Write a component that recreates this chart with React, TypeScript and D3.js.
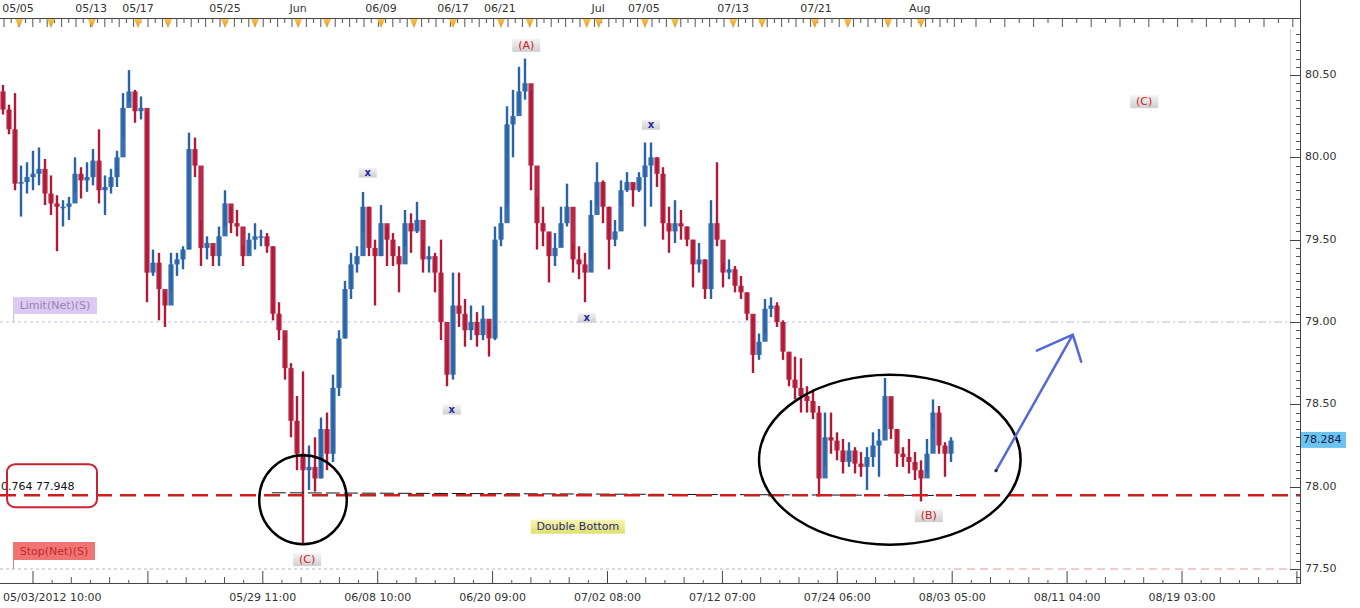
import React from 'react';
import * as d3 from 'd3';

// ---------------- DATA ----------------
const firstOpen = 80.40;
// 10-hour bars
const highs = [
  80.44, 80.32, 80.39, 79.95, 79.97, 80.04, 80.06, 79.99, 79.89, 79.77,
  79.74, 79.76, 80.00, 79.94, 79.97, 80.05, 80.17, 79.89, 79.93, 80.04,
  80.39, 80.53, 80.41, 80.37, 80.28, 79.44, 79.42, 79.18, 79.42, 79.42,
  79.46, 80.15, 80.12, 79.62, 79.52, 79.46, 79.58, 79.80, 79.70, 79.68,
  79.46, 79.54, 79.60, 79.56, 79.54, 79.46, 79.12, 78.92, 78.75, 78.55,
  78.70, 78.25, 78.30, 78.42, 78.45, 78.68, 78.95, 79.25, 79.42, 79.46,
  79.79, 79.70, 79.50, 79.71, 79.58, 79.54, 79.46, 79.68, 79.66, 79.73,
  79.50, 79.46, 79.42, 79.50, 78.89, 79.30, 79.30, 79.14, 79.10, 79.06,
  79.10, 79.00, 79.58, 79.70, 80.31, 80.41, 80.55, 80.60, 80.41, 79.76,
  79.70, 79.54, 79.54, 79.70, 79.84, 79.48, 79.46, 79.42, 79.74, 79.97,
  79.86, 79.70, 79.62, 79.86, 79.91, 79.84, 79.91, 80.09, 80.09, 80.00,
  79.94, 79.70, 79.74, 79.68, 79.58, 79.50, 79.48, 79.38, 79.74, 79.97,
  79.36, 79.38, 79.34, 79.28, 79.18, 79.03, 78.93, 79.14, 79.15, 79.12,
  79.01, 78.81, 78.79, 78.78, 78.61, 78.59, 78.49, 78.45, 78.45, 78.33,
  78.29, 78.27, 78.24, 78.21, 78.24, 78.33, 78.35, 78.66, 78.53, 78.35,
  78.24, 78.29, 78.21, 78.16, 78.29, 78.53, 78.49, 78.27, 78.30,
];
const lows = [
  80.26, 80.14, 79.80, 79.64, 79.78, 79.80, 79.83, 79.71, 79.65, 79.43,
  79.58, 79.62, 79.79, 79.75, 79.79, 79.83, 79.72, 79.65, 79.78, 79.82,
  80.12, 80.33, 80.21, 80.23, 79.12, 79.28, 79.01, 78.97, 79.18, 79.28,
  79.32, 79.44, 79.88, 79.34, 79.38, 79.34, 79.34, 79.58, 79.54, 79.52,
  79.34, 79.42, 79.44, 79.46, 79.42, 79.01, 78.89, 78.65, 78.30, 78.10,
  77.65, 77.98, 77.97, 78.05, 78.10, 78.15, 78.55, 78.90, 79.14, 79.30,
  79.55, 79.40, 79.10, 79.40, 79.34, 79.34, 79.18, 79.46, 79.42, 79.54,
  79.30, 79.30, 79.18, 78.89, 78.61, 78.65, 78.97, 78.85, 78.89, 78.85,
  78.89, 78.79, 78.89, 79.46, 79.70, 80.00, 80.27, 80.35, 79.80, 79.44,
  79.46, 79.24, 79.34, 79.46, 79.58, 79.30, 79.26, 79.12, 79.38, 79.70,
  79.60, 79.32, 79.46, 79.70, 79.79, 79.70, 79.79, 79.58, 79.70, 79.82,
  79.50, 79.42, 79.48, 79.50, 79.46, 79.21, 79.30, 79.14, 79.14, 79.46,
  79.21, 79.26, 79.18, 79.14, 79.01, 78.69, 78.77, 78.93, 79.03, 78.97,
  78.77, 78.61, 78.53, 78.45, 78.45, 78.41, 77.94, 78.12, 78.20, 78.16,
  78.08, 78.12, 78.08, 78.06, 77.98, 78.12, 78.06, 78.35, 78.29, 78.12,
  78.12, 78.08, 78.04, 77.91, 78.08, 78.35, 78.20, 78.06, 78.15,
];
const closes = [
  80.29, 80.17, 79.84, 79.85, 79.88, 79.90, 79.93, 79.78, 79.72, 79.70,
  79.70, 79.72, 79.90, 79.86, 79.88, 79.98, 79.80, 79.82, 79.88, 80.00,
  80.30, 80.40, 80.28, 80.30, 79.30, 79.36, 79.20, 79.10, 79.35, 79.38,
  79.44, 80.05, 79.95, 79.45, 79.48, 79.40, 79.52, 79.72, 79.60, 79.58,
  79.40, 79.50, 79.52, 79.52, 79.46, 79.05, 78.95, 78.72, 78.40, 78.20,
  78.10, 78.12, 78.05, 78.35, 78.20, 78.60, 78.90, 79.20, 79.35, 79.40,
  79.70, 79.45, 79.40, 79.60, 79.50, 79.40, 79.35, 79.60, 79.55, 79.62,
  79.38, 79.40, 79.30, 79.00, 78.68, 79.10, 79.05, 78.95, 79.00, 78.92,
  79.02, 78.90, 79.50, 79.60, 80.20, 80.25, 80.40, 80.45, 79.95, 79.60,
  79.55, 79.40, 79.45, 79.60, 79.70, 79.38, 79.35, 79.30, 79.65, 79.85,
  79.70, 79.50, 79.55, 79.80, 79.85, 79.80, 79.88, 79.95, 80.00, 79.90,
  79.60, 79.55, 79.60, 79.58, 79.50, 79.35, 79.38, 79.20, 79.60, 79.50,
  79.30, 79.32, 79.22, 79.18, 79.05, 78.80, 78.88, 79.08, 79.10, 79.00,
  78.82, 78.65, 78.60, 78.55, 78.52, 78.45, 78.05, 78.30, 78.28, 78.22,
  78.15, 78.22, 78.14, 78.12, 78.18, 78.25, 78.28, 78.55, 78.35, 78.20,
  78.18, 78.15, 78.10, 78.05, 78.20, 78.45, 78.25, 78.20, 78.28,
];
const HOURS_PER_BAR = 10;

const priceTicks = [77.5, 78.0, 78.5, 79.0, 79.5, 80.0, 80.5];
const lastPrice = 78.284;
const fibRatio = '0.764';
const fibLevel = 77.948;
const limitLevel = 79.0;
const stopLevel = 77.5;
const supportStart = [453, 77.963];
const supportEnd = [1600, 77.946];

const topLabels = ['05/05', '05/13', '05/17', '05/25', 'Jun', '06/09', '06/17', '06/21', 'Jul', '07/05', '07/13', '07/21', 'Aug'];
const topLabelHours = [30, 152, 230, 375, 497, 635, 755, 833, 997, 1073, 1222, 1360, 1533];
const eventHours = [32, 85, 153, 230, 280, 375, 425, 497, 545, 635, 690, 755, 835, 883, 978, 998, 1075, 1125, 1222, 1270, 1358, 1413, 1480, 1535];

const bottomLabels = ['05/03/2012 10:00', '', '05/29 11:00', '06/08 10:00', '06/20 09:00', '07/02 08:00', '07/12 07:00', '07/24 06:00', '08/03 05:00', '08/11 04:00', '08/19 03:00', ''];
const bottomTickHours = [55, 246.5, 438, 629.5, 821, 1012.5, 1204, 1395.5, 1587, 1778.5, 1970, 2161.5];

const waveLabels = ['(A)', '(C)', '(B)', '(C)'];
const waveHours = [877, 512, 1548, 1907];
const wavePrices = [80.68, 77.557, 77.824, 80.338];
const xMarkHours = [613, 753, 978, 1085];
const xMarkPrices = [79.907, 78.468, 79.026, 80.198];

const circleCenter = [505, 77.921];
const circleRadius = [73, 0.27];
const ellipseCenter = [1483, 78.164];
const ellipseRadius = [218, 0.516];

const arrowStart = [1660, 78.097];
const arrowTip = [1788, 78.923];
const arrowWingA = [1728, 78.826];
const arrowWingB = [1802, 78.759];

const patternLabel = 'Double Bottom';
const patternPos = [963, 77.757];

// ---------------- LAYOUT ----------------
const W = 1360;
const H = 608;
const PLOT_R = 1290;
const AXIS_X = 1300;
const FONT = 'DejaVu Sans, Verdana, sans-serif';

export default function App() {
  const x = d3.scaleLinear().domain([0, 2160]).range([0, 1296]);
  const y = d3.scaleLinear().domain([77.5, 80.5]).range([569, 75]);
  const RED = '#b01a38';
  const BLUE = '#2a64a8';

  const bars = closes.map((c, i) => {
    const o = i === 0 ? firstOpen : closes[i - 1];
    return { i, o, c, h: highs[i], l: lows[i], up: c >= o };
  });

  const minorPrice = d3.range(7740, 8080, 5).map((v) => v / 100).filter((p) => y(p) > 26 && y(p) < 584);

  const topTicks: { px: number; tall: boolean }[] = [];
  for (let k = 0, px = 4; px < AXIS_X; k++) {
    topTicks.push({ px, tall: k % 2 === 0 });
    px += px < 955 ? 7.2 : 14.4;
  }

  const bottomMinor: { px: number; tall: boolean }[] = [];
  bottomTickHours.forEach((h) => {
    for (let s = 1; s < 6; s++) {
      const px = x(h + (191.5 * s) / 6);
      if (px < AXIS_X) bottomMinor.push({ px, tall: s % 2 === 0 });
    }
  });

  const limitY = y(limitLevel);
  const stopY = y(stopLevel);
  const fibY = y(fibLevel);

  const grayBox = (cx: number, cy: number, w: number, h: number, key: string, label: string, color: string, bold = false) => (
    <g key={key}>
      <rect x={cx - w / 2} y={cy - h / 2} width={w} height={h} fill="url(#gbox)" />
      <text x={cx} y={cy + 0.5} textAnchor="middle" dominantBaseline="middle" fontSize={bold ? 10 : 11} fontWeight={bold ? 'bold' : 'normal'} fill={color} fontFamily={FONT}>
        {label}
      </text>
    </g>
  );

  return (
    <svg width={W} height={H} style={{ position: 'absolute', left: 0, top: 0, background: '#fff' }} fontFamily={FONT}>
      <defs>
        <linearGradient id="gbox" x1="0" y1="0" x2="0" y2="1">
          <stop offset="0" stopColor="#f4f4f4" />
          <stop offset="1" stopColor="#cfcfcf" />
        </linearGradient>
        <linearGradient id="ybox" x1="0" y1="0" x2="0" y2="1">
          <stop offset="0" stopColor="#f6f6b0" />
          <stop offset="1" stopColor="#dede70" />
        </linearGradient>
        <linearGradient id="tri" x1="0" y1="0" x2="0" y2="1">
          <stop offset="0" stopColor="#f7c35a" />
          <stop offset="1" stopColor="#e89410" />
        </linearGradient>
      </defs>
      <rect x={0} y={0} width={W} height={H} fill="#fff" />

      {/* plot border */}
      <line x1={PLOT_R + 0.5} y1={29} x2={PLOT_R + 0.5} y2={570} stroke="#d0d0d0" />

      {/* top time axis */}
      <line x1={0} y1={18.5} x2={AXIS_X + 1} y2={18.5} stroke="#444" />
      {topTicks.map((t, k) => (
        <line key={'tt' + k} x1={t.px} y1={18.5} x2={t.px} y2={t.tall ? 27 : 23} stroke="#555" />
      ))}
      {eventHours.map((h, k) => {
        const cx = x(h);
        return <path key={'ev' + k} d={`M${cx - 4},19 L${cx + 4},19 L${cx},28 Z`} fill="url(#tri)" />;
      })}
      {topLabels.map((t, k) => (
        <text key={'tl' + k} x={x(topLabelHours[k])} y={12} textAnchor="middle" fontSize={11} fill="#333">
          {t}
        </text>
      ))}

      {/* limit and stop lines */}
      <line x1={0} y1={limitY} x2={x(1590)} y2={limitY} stroke="#c9bcd8" strokeDasharray="3,3" />
      <line x1={x(1590)} y1={limitY} x2={PLOT_R} y2={limitY} stroke="#bdbdbd" strokeDasharray="8,3,2,3" />
      <line x1={0} y1={stopY} x2={x(1590)} y2={stopY} stroke="#b8b8b8" strokeDasharray="3,3" />
      <line x1={x(1590)} y1={stopY} x2={PLOT_R} y2={stopY} stroke="#e79a9a" strokeDasharray="8,5" />
      <line x1={13.5} y1={limitY - 8} x2={13.5} y2={limitY} stroke="#c9bcd8" />
      <line x1={13.5} y1={stopY - 10} x2={13.5} y2={stopY} stroke="#e08080" />
      <rect x={13} y={limitY - 25} width={84} height={17} fill="#dccbf0" />
      <text x={55} y={limitY - 16} textAnchor="middle" dominantBaseline="middle" fontSize={11} fill="#9a82b8">Limit(Net)(S)</text>
      <rect x={13} y={stopY - 27} width={82} height={18} fill="#f07474" />
      <text x={54} y={stopY - 17.5} textAnchor="middle" dominantBaseline="middle" fontSize={11} fill="#c42a2a">Stop(Net)(S)</text>

      {/* bars */}
      {bars.map((b) => {
        const cx = x(b.i * HOURS_PER_BAR + HOURS_PER_BAR / 2);
        const col = b.up ? BLUE : RED;
        const top = y(Math.max(b.o, b.c));
        const bot = y(Math.min(b.o, b.c));
        return (
          <g key={'b' + b.i}>
            <line x1={cx} y1={y(b.h)} x2={cx} y2={y(b.l)} stroke={col} strokeWidth={2.4} />
            <rect x={cx - 2.6} y={top} width={5.2} height={Math.max(1.5, bot - top)} fill={col} opacity={0.92} />
          </g>
        );
      })}

      {/* fib level */}
      <line x1={x(supportStart[0])} y1={y(supportStart[1])} x2={x(supportEnd[0])} y2={y(supportEnd[1])} stroke="#111" strokeWidth={1} strokeDasharray="14,4" />
      <line x1={0} y1={fibY} x2={AXIS_X} y2={fibY} stroke="#cc2020" strokeWidth={2.5} strokeDasharray="16,8" />
      <text x={1} y={fibY - 5} fontSize={11} fill="#111">{`${fibRatio} ${fibLevel.toFixed(3)}`}</text>
      <rect x={7} y={fibY - 31} width={90} height={43} rx={8} fill="none" stroke="#cc2233" strokeWidth={2} />

      {/* circle & ellipse */}
      <ellipse cx={x(circleCenter[0])} cy={y(circleCenter[1])} rx={x(circleRadius[0]) - x(0)} ry={y(77.5) - y(77.5 + circleRadius[1])} fill="none" stroke="#000" strokeWidth={2.5} />
      <ellipse cx={x(ellipseCenter[0])} cy={y(ellipseCenter[1])} rx={x(ellipseRadius[0]) - x(0)} ry={y(77.5) - y(77.5 + ellipseRadius[1])} fill="none" stroke="#000" strokeWidth={2.5} />

      {/* arrow */}
      <path
        d={`M${x(arrowStart[0])},${y(arrowStart[1])} L${x(arrowTip[0])},${y(arrowTip[1])} M${x(arrowWingA[0])},${y(arrowWingA[1])} L${x(arrowTip[0])},${y(arrowTip[1])} L${x(arrowWingB[0])},${y(arrowWingB[1])}`}
        fill="none"
        stroke="#5468dc"
        strokeWidth={2.5}
        strokeLinecap="round"
        strokeLinejoin="round"
      />
      <circle cx={x(arrowStart[0])} cy={y(arrowStart[1])} r={1.6} fill="#223" />

      {/* labels */}
      {waveLabels.map((t, k) => grayBox(x(waveHours[k]), y(wavePrices[k]), 28, 13, 'w' + k, t, '#cc2020'))}
      {xMarkHours.map((h, k) => grayBox(x(h), y(xMarkPrices[k]), 18, 10, 'x' + k, 'x', '#1c2aa8', true))}
      <rect x={x(patternPos[0]) - 47} y={y(patternPos[1]) - 7} width={94} height={14} fill="url(#ybox)" />
      <text x={x(patternPos[0])} y={y(patternPos[1]) + 0.5} textAnchor="middle" dominantBaseline="middle" fontSize={11} fill="#2a2a7a">{patternLabel}</text>

      {/* bottom axis */}
      <line x1={0} y1={583.5} x2={AXIS_X} y2={583.5} stroke="#444" />
      {bottomTickHours.map((h, k) => (x(h) <= AXIS_X ? <line key={'bm' + k} x1={x(h)} y1={571} x2={x(h)} y2={584} stroke="#444" /> : null))}
      {bottomMinor.map((t, k) => (
        <line key={'bn' + k} x1={t.px} y1={t.tall ? 577 : 580} x2={t.px} y2={584} stroke="#555" />
      ))}
      {bottomLabels.map((t, k) =>
        t ? (
          <text key={'bl' + k} x={k === 0 ? 3 : x(bottomTickHours[k])} y={601} textAnchor={k === 0 ? 'start' : 'middle'} fontSize={11} fill="#333">
            {t}
          </text>
        ) : null
      )}

      {/* right price axis */}
      <line x1={AXIS_X + 0.5} y1={0} x2={AXIS_X + 0.5} y2={584} stroke="#444" />
      {minorPrice.map((p, k) => (
        <line key={'pm' + k} x1={AXIS_X - 4} y1={Math.round(y(p)) + 0.5} x2={AXIS_X} y2={Math.round(y(p)) + 0.5} stroke="#555" />
      ))}
      {priceTicks.map((p, k) => (
        <g key={'pt' + k}>
          <line x1={AXIS_X - 10} y1={Math.round(y(p)) + 0.5} x2={AXIS_X} y2={Math.round(y(p)) + 0.5} stroke="#444" />
          <text x={AXIS_X + 5} y={y(p)} dominantBaseline="middle" fontSize={11} fill="#333">
            {p.toFixed(2)}
          </text>
        </g>
      ))}
      <rect x={AXIS_X + 1} y={y(lastPrice) - 8} width={45} height={16} fill="#6cc3ef" />
      <text x={AXIS_X + 3} y={y(lastPrice) + 0.5} dominantBaseline="middle" fontSize={11} fill="#10204a">{lastPrice.toFixed(3)}</text>
    </svg>
  );
}
